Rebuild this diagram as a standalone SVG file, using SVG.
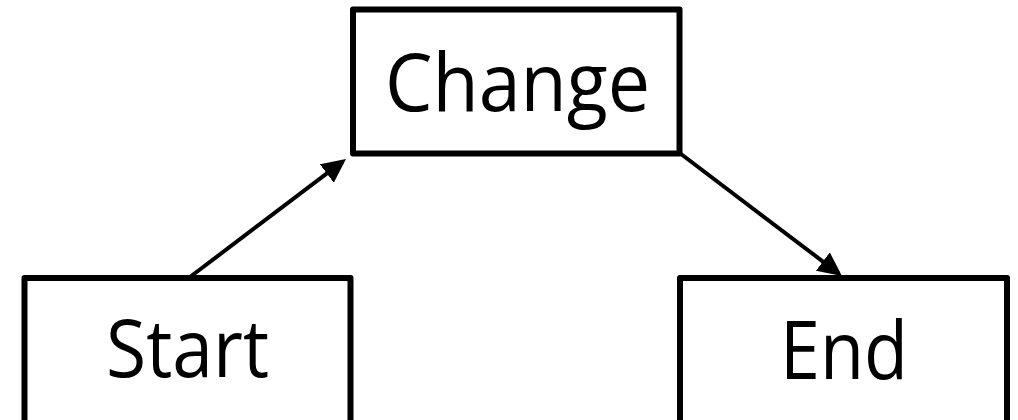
<svg xmlns="http://www.w3.org/2000/svg" width="1018" height="420" viewBox="0 0 1018 420">
  <defs>
    <style>
      .box { fill: #ffffff; stroke: #000000; stroke-width: 6; stroke-linejoin: round; }
      .label { font-family: "Open Sans", "Noto Sans", "Liberation Sans", sans-serif; font-size: 80px; fill: #000000; }
      .link { fill: none; stroke: #000000; stroke-width: 4; }
    </style>
    <marker id="arrow" markerUnits="userSpaceOnUse" markerWidth="24" markerHeight="24" refX="20" refY="11.5" orient="auto">
      <path d="M0,0 L24,11.5 L0,23 z" fill="#000000"/>
    </marker>
  </defs>

  <rect x="0" y="0" width="1018" height="420" fill="#ffffff"/>

  <g id="connectors">
    <line class="link" x1="190" y1="277" x2="342.8" y2="161.4" marker-end="url(#arrow)"/>
    <line class="link" x1="681" y1="154" x2="838.8" y2="273.6" marker-end="url(#arrow)"/>
  </g>

  <g id="node-change">
    <rect class="box" x="353" y="9.5" width="326.5" height="144"/>
    <text class="label" x="385" y="111" textLength="265" lengthAdjust="spacingAndGlyphs">Change</text>
  </g>

  <g id="node-start">
    <rect class="box" x="24.5" y="278" width="326" height="160"/>
    <text class="label" x="106" y="377" textLength="163" lengthAdjust="spacingAndGlyphs">Start</text>
  </g>

  <g id="node-end">
    <rect class="box" x="680" y="278" width="327" height="160"/>
    <text class="label" x="780" y="379" textLength="128" lengthAdjust="spacingAndGlyphs">End</text>
  </g>
</svg>
